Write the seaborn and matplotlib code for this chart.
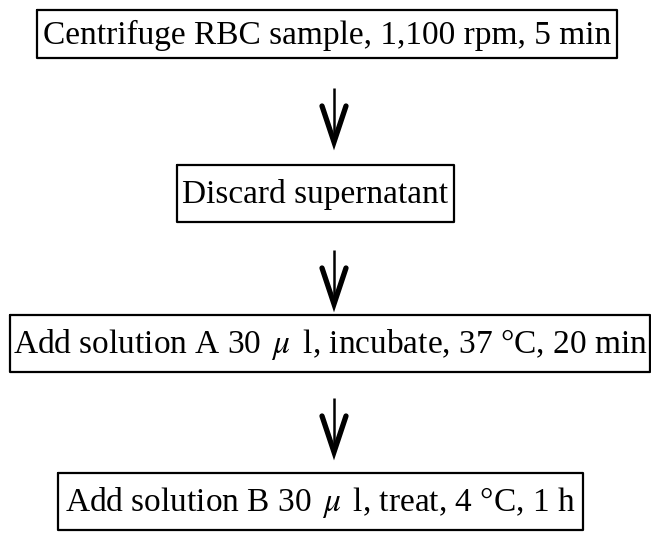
import matplotlib
matplotlib.use("Agg")
import matplotlib.pyplot as plt
import seaborn as sns
import pandas as pd

# ---- data ----
steps = [
    "Centrifuge RBC sample, 1,100 rpm, 5 min",
    "Discard supernatant",
    "Add solution A 30 $\\,\\mu\\,$ l, incubate, 37 °C, 20 min",
    "Add solution B 30 $\\,\\mu\\,$ l, treat, 4 °C, 1 h",
]

# ---- layout (pixels, y downward) ----
box_left = [37, 177, 10, 58]
box_right = [617, 454, 650, 583]
box_top = [10, 165, 315, 473]
box_bottom = [58, 222, 372, 530]
arrow_x = 334
arrow_top = [88, 250, 398]
arrow_tip = [142, 304, 452]

sns.set_theme(style="white")
plt.rcParams["font.family"] = ["Liberation Serif", "DejaVu Serif"]
plt.rcParams["mathtext.fontset"] = "stix"

W, H = 651, 535
fig = plt.figure(figsize=(W / 100, H / 100), dpi=100)
ax = fig.add_axes([0, 0, 1, 1])
ax.set_xlim(0, W)
ax.set_ylim(H, 0)
ax.axis("off")

fs = 24
for lbl, l, r, t, b in zip(steps, box_left, box_right, box_top, box_bottom):
    df = pd.DataFrame({"x": [l, r, r, l, l], "y": [t, t, b, b, t]})
    sns.lineplot(data=df, x="x", y="y", sort=False, estimator=None,
                 color="black", lw=1.6, ax=ax)
    ax.text((l + r) / 2, (t + b) / 2 + 1, lbl, ha="center", va="center",
            fontsize=fs, color="black")

for t, tip in zip(arrow_top, arrow_tip):
    ax.plot([arrow_x, arrow_x], [t, tip - 4], color="black", lw=1.8,
            solid_capstyle="butt")
    ax.plot([arrow_x - 12, arrow_x, arrow_x + 12], [tip - 36, tip, tip - 36],
            color="black", lw=3.8, solid_joinstyle="miter", solid_capstyle="round")

ax.set_xlabel("")
ax.set_ylabel("")
fig.savefig("out.png", dpi=100, facecolor="white")
